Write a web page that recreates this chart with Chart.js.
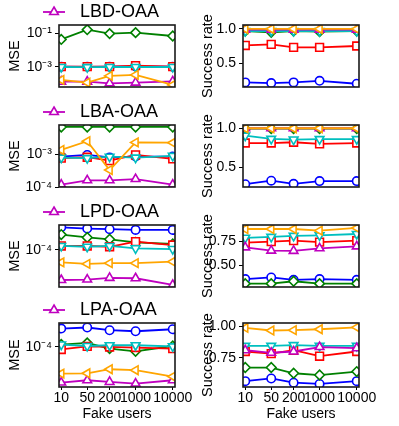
<!DOCTYPE html>
<html lang="en">
<head>
<meta charset="UTF-8">
<title>MSE and success rate vs fake users</title>
<script src="https://cdn.jsdelivr.net/npm/chart.js"></script>
<style>
  body { margin: 0; background: #fff; }
  #fig { position: relative; width: 399px; height: 426px; overflow: hidden; }
  #fig canvas { position: absolute; }
</style>
</head>
<body>
<div id="fig"></div>
<script>
// x values (fake users), same for every panel
const fakeUsers = [10, 50, 200, 1000, 10000];

// series order in every panel: blue o, green D, red s, cyan v, magenta ^, orange <
const lbdMse = [
  [1.0e-3, 0.98e-3, 1.0e-3, 1.02e-3, 1.0e-3],
  [0.043, 0.166, 0.096, 0.11, 0.069],
  [1.0e-3, 1.0e-3, 1.0e-3, 1.15e-3, 1.0e-3],
  [0.95e-3, 0.93e-3, 0.95e-3, 0.95e-3, 0.95e-3],
  [1.25e-4, 1.25e-4, 1.0e-4, 1.1e-4, 1.3e-4],
  [1.6e-4, 1.1e-4, 2.8e-4, 3.2e-4, 0.8e-4]
];
const lbdRate = [
  [0.224, 0.214, 0.224, 0.247, 0.204],
  [0.97, 0.95, 0.97, 0.96, 0.97],
  [0.76, 0.776, 0.733, 0.733, 0.752],
  [0.97, 0.97, 0.97, 0.97, 0.97],
  [0.99, 0.99, 0.99, 0.99, 0.99],
  [1.0, 1.0, 1.0, 1.0, 1.0]
];
const lbaMse = [
  [8.5e-4, 9.5e-4, 8.0e-4, 8.5e-4, 8.5e-4],
  [6.8e-3, 6.8e-3, 6.8e-3, 6.8e-3, 6.8e-3],
  [7.6e-4, 8.1e-4, 6.4e-4, 9.5e-4, 7.2e-4],
  [7.9e-4, 7.6e-4, 8.4e-4, 7.9e-4, 8.9e-4],
  [1.18e-4, 1.6e-4, 1.6e-4, 1.75e-4, 1.18e-4],
  [1.35e-3, 2.5e-3, 3.3e-4, 2.3e-3, 2.25e-3]
];
const lbaRate = [
  [0.28, 0.325, 0.285, 0.32, 0.32],
  [0.995, 0.995, 0.995, 0.995, 0.995],
  [0.81, 0.81, 0.82, 0.80, 0.81],
  [0.905, 0.863, 0.855, 0.86, 0.86],
  [1.0, 1.0, 1.0, 1.0, 1.0],
  [1.0, 1.0, 1.0, 1.0, 1.0]
];
const lpdMse = [
  [3.2e-4, 3.0e-4, 2.9e-4, 2.8e-4, 2.8e-4],
  [2.2e-4, 1.9e-4, 1.73e-4, 1.48e-4, 1.36e-4],
  [1.23e-4, 1.23e-4, 1.18e-4, 1.53e-4, 1.29e-4],
  [1.23e-4, 1.18e-4, 1.23e-4, 1.09e-4, 1.05e-4],
  [2.15e-5, 2.2e-5, 2.4e-5, 2.35e-5, 1.67e-5],
  [5.3e-5, 4.9e-5, 5.1e-5, 5.1e-5, 5.5e-5]
];
const lpdRate = [
  [0.358, 0.375, 0.35, 0.358, 0.35],
  [0.31, 0.31, 0.335, 0.31, 0.31],
  [0.74, 0.75, 0.76, 0.745, 0.76],
  [0.79, 0.80, 0.81, 0.815, 0.83],
  [0.69, 0.656, 0.653, 0.68, 0.70],
  [0.882, 0.882, 0.882, 0.865, 0.893]
];
const lpaMse = [
  [2.56e-4, 2.7e-4, 2.35e-4, 2.23e-4, 2.47e-4],
  [1.13e-4, 1.23e-4, 9.2e-5, 8.0e-5, 1.05e-4],
  [8.8e-5, 1.03e-4, 1.0e-4, 9.7e-5, 9.2e-5],
  [1.13e-4, 1.05e-4, 1.09e-4, 1.09e-4, 1.03e-4],
  [1.62e-5, 1.82e-5, 1.67e-5, 1.54e-5, 1.82e-5],
  [2.56e-5, 2.6e-5, 3.2e-5, 3.05e-5, 2.2e-5]
];
const lpaRate = [
  [0.567, 0.588, 0.555, 0.545, 0.567],
  [0.674, 0.674, 0.629, 0.615, 0.642],
  [0.80, 0.783, 0.81, 0.763, 0.80],
  [0.844, 0.844, 0.85, 0.844, 0.844],
  [0.81, 0.79, 0.80, 0.835, 0.826],
  [0.986, 0.965, 0.968, 0.975, 0.99]
];

// legend names (magenta series in each row)
const methods = ['LBD-OAA', 'LBA-OAA', 'LPD-OAA', 'LPA-OAA'];

// y tick values
const mseTicks = [[1e-1, 1e-3], [1e-3, 1e-4], [1e-4], [1e-4]];
const rateTicks = [[0.5, 1.0], [0.5, 1.0], [0.5, 0.75], [0.75, 1.0]];

// panel layout: plot box top / bottom for each row
const rowTop = [25, 125, 225, 323];
const rowBottom = [87, 187, 287, 387];

const styles = [
  {color: '#0000ff', shape: 'circle', r: 4.2, rot: 0},
  {color: '#008000', shape: 'rectRot', r: 4.8, rot: 0},
  {color: '#ff0000', shape: 'rect', r: 5.5, rot: 0},
  {color: '#00bfbf', shape: 'triangle', r: 5, rot: 180},
  {color: '#bf00bf', shape: 'triangle', r: 5, rot: 0},
  {color: '#ffa500', shape: 'triangle', r: 5, rot: 270}
];

const panels = [
  {row: 0, side: 0, values: lbdMse, log: true, min: 6e-5, max: 0.316, ticks: mseTicks[0], legend: methods[0]},
  {row: 0, side: 1, values: lbdRate, min: 0.157, max: 1.057, ticks: rateTicks[0], digits: 1},
  {row: 1, side: 0, values: lbaMse, log: true, min: 1e-4, max: 7.8e-3, ticks: mseTicks[1], legend: methods[1]},
  {row: 1, side: 1, values: lbaRate, min: 0.244, max: 1.042, ticks: rateTicks[1], digits: 1},
  {row: 2, side: 0, values: lpdMse, log: true, min: 1.5e-5, max: 3.6e-4, ticks: mseTicks[2], legend: methods[2]},
  {row: 2, side: 1, values: lpdRate, min: 0.275, max: 0.924, ticks: rateTicks[2], digits: 2},
  {row: 3, side: 0, values: lpaMse, log: true, min: 1.29e-5, max: 3.4e-4, ticks: mseTicks[3], legend: methods[3]},
  {row: 3, side: 1, values: lpaRate, min: 0.521, max: 1.024, ticks: rateTicks[3], digits: 2}
];

Chart.defaults.font.family = '"Liberation Sans", Arial, sans-serif';
Chart.defaults.color = '#000';

const SUP = {'-': '\u207B', '0': '\u2070', '1': '\u00B9', '2': '\u00B2', '3': '\u00B3', '4': '\u2074',
             '5': '\u2075', '6': '\u2076', '7': '\u2077', '8': '\u2078', '9': '\u2079'};
function powLabel(v) {
  const e = String(Math.round(Math.log10(v)));
  return '10' + e.split('').map(c => SUP[c]).join('');
}

// black box round the plot area
const frame = {
  id: 'frame',
  afterDatasetsDraw(chart) {
    const {ctx, chartArea: a} = chart;
    ctx.save();
    ctx.strokeStyle = '#1a1a1a';
    ctx.lineWidth = 1.6;
    ctx.strokeRect(a.left, a.top, a.right - a.left, a.bottom - a.top);
    ctx.restore();
  }
};

// matplotlib style legend entry (line + marker + name) above the MSE plots
const legendEntry = {
  id: 'legendEntry',
  afterDraw(chart, args, opts) {
    if (!opts.text) return;
    const ds = chart.data.datasets[opts.index];
    const {ctx, chartArea} = chart;
    const y = chartArea.top - 13;
    const x0 = chartArea.left - 16;
    ctx.save();
    ctx.strokeStyle = ds.borderColor;
    ctx.lineWidth = ds.borderWidth;
    ctx.beginPath();
    ctx.moveTo(x0, y);
    ctx.lineTo(x0 + 22, y);
    ctx.stroke();
    ctx.fillStyle = ds.pointBackgroundColor;
    ctx.lineWidth = ds.pointBorderWidth;
    Chart.helpers.drawPoint(ctx, {pointStyle: ds.pointStyle, radius: ds.pointRadius,
      borderWidth: ds.pointBorderWidth, rotation: ds.pointRotation}, x0 + 11, y);
    ctx.fillStyle = '#000';
    ctx.font = '18px "Liberation Sans", Arial, sans-serif';
    ctx.textBaseline = 'middle';
    ctx.fillText(opts.text, x0 + 37, y);
    ctx.restore();
  }
};

const fig = document.getElementById('fig');

panels.forEach(p => {
  const last = p.row === 3;
  const top = rowTop[p.row] - 24;
  const height = last ? 426 - top : rowBottom[p.row] - top + 14;
  const left = p.side ? 199 : 0;
  const width = p.side ? 200 : 199;

  const canvas = document.createElement('canvas');
  canvas.width = width;
  canvas.height = height;
  canvas.style.left = left + 'px';
  canvas.style.top = top + 'px';
  canvas.style.width = width + 'px';
  canvas.style.height = height + 'px';
  fig.appendChild(canvas);

  new Chart(canvas, {
    type: 'line',
    data: {
      labels: fakeUsers,
      datasets: p.values.map((vals, i) => ({
        label: i === 4 && p.legend ? p.legend : 'series ' + (i + 1),
        data: vals,
        order: p.values.length - 1 - i,
        borderColor: styles[i].color,
        borderWidth: 1.8,
        pointStyle: styles[i].shape,
        pointRadius: styles[i].r,
        pointRotation: styles[i].rot,
        pointBorderColor: styles[i].color,
        pointBackgroundColor: '#fff',
        pointBorderWidth: 1.6,
        tension: 0
      }))
    },
    options: {
      responsive: false,
      animation: false,
      devicePixelRatio: 1,
      layout: {padding: {left: 0, top: 24, right: p.side ? 40 : 24, bottom: last ? 0 : 14}},
      plugins: {
        legend: {display: false},
        tooltip: {enabled: false},
        legendEntry: {text: p.legend, index: 4}
      },
      scales: {
        x: {
          type: 'logarithmic',
          min: 8.7,
          max: 11500,
          display: last,
          afterBuildTicks: s => { s.ticks = fakeUsers.map(v => ({value: v})); },
          afterFit: s => {
            s.height = last ? 39 : 0;
            s.paddingLeft = 0;
            s.paddingRight = 0;
          },
          grid: {drawOnChartArea: false, tickLength: 3, color: '#000'},
          border: {display: false},
          ticks: {autoSkip: false, maxRotation: 0, padding: 0, font: {size: 14},
                  callback: v => String(v)},
          title: {display: true, text: 'Fake users', font: {size: 14}, padding: {top: 0, bottom: 3}}
        },
        y: {
          type: p.log ? 'logarithmic' : 'linear',
          min: p.min,
          max: p.max,
          afterBuildTicks: s => { s.ticks = p.ticks.map(v => ({value: v})); },
          afterFit: s => { s.width = p.side ? 44 : 59; s.paddingTop = 0; s.paddingBottom = 0; },
          grid: {drawOnChartArea: false, tickLength: 4, color: '#000'},
          border: {display: false},
          ticks: {padding: 3, font: {size: 14},
                  callback: v => p.log ? powLabel(v) : Number(v).toFixed(p.digits)},
          title: {display: true, text: p.side ? 'Success rate' : 'MSE', font: {size: 14.5},
                  padding: {top: p.side ? 0 : 6, bottom: 0}}
        }
      }
    },
    plugins: [frame, legendEntry]
  });
});
</script>
</body>
</html>
